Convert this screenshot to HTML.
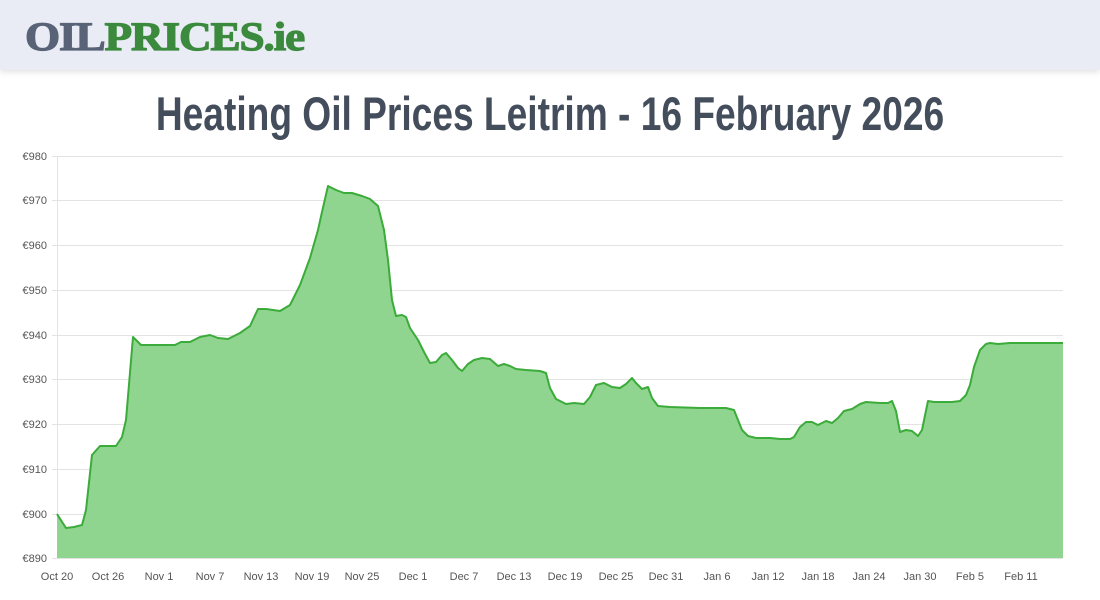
<!DOCTYPE html>
<html><head><meta charset="utf-8"><style>
body{margin:0;width:1100px;height:600px;background:#fff;overflow:hidden;font-family:"Liberation Sans",sans-serif;position:relative}
.hdr{position:absolute;left:0;top:0;width:1100px;height:70px;background:#e9ecf4;box-shadow:0 2px 6px rgba(0,0,0,0.12)}
.logo{position:absolute;left:25px;top:14px;font-family:"Liberation Serif",serif;font-weight:900;font-size:40px;letter-spacing:-1px;transform:scaleX(1.13);transform-origin:left;line-height:46px;-webkit-text-stroke:1.2px currentColor}
.title{position:absolute;left:0;width:1100px;top:84px;text-align:center;font-family:"Liberation Sans",sans-serif;font-weight:bold;font-size:47px;color:#444d5b;line-height:60px;transform:scaleX(0.79);transform-origin:550px 0}
</style></head><body>
<div class="hdr"><div class="logo"><span style="color:#596377">OIL</span><span style="color:#3b8a3e">PRICES.ie</span></div></div>
<div class="title">Heating Oil Prices Leitrim - 16 February 2026</div>
<svg width="1100" height="600" style="position:absolute;left:0;top:0">
<g stroke="#e3e3e3" stroke-width="1">
<line x1="52" x2="1063" y1="156.5" y2="156.5"/><line x1="52" x2="1063" y1="200.5" y2="200.5"/><line x1="52" x2="1063" y1="245.5" y2="245.5"/><line x1="52" x2="1063" y1="290.5" y2="290.5"/><line x1="52" x2="1063" y1="335.5" y2="335.5"/><line x1="52" x2="1063" y1="379.5" y2="379.5"/><line x1="52" x2="1063" y1="424.5" y2="424.5"/><line x1="52" x2="1063" y1="469.5" y2="469.5"/><line x1="52" x2="1063" y1="514.5" y2="514.5"/><line x1="52" x2="1063" y1="558.5" y2="558.5"/>
<line x1="57.5" x2="57.5" y1="156" y2="558"/>
</g>
<g font-size="11" fill="#555" text-anchor="end" font-family="Liberation Sans,sans-serif">
<text x="47" y="160">€980</text><text x="47" y="204">€970</text><text x="47" y="249">€960</text><text x="47" y="294">€950</text><text x="47" y="339">€940</text><text x="47" y="383">€930</text><text x="47" y="428">€920</text><text x="47" y="473">€910</text><text x="47" y="518">€900</text><text x="47" y="562">€890</text>
</g>
<g font-size="11" fill="#555" text-anchor="middle" font-family="Liberation Sans,sans-serif">
<text x="57" y="580">Oct 20</text><text x="108" y="580">Oct 26</text><text x="159" y="580">Nov 1</text><text x="210" y="580">Nov 7</text><text x="261" y="580">Nov 13</text><text x="312" y="580">Nov 19</text><text x="362" y="580">Nov 25</text><text x="413" y="580">Dec 1</text><text x="464" y="580">Dec 7</text><text x="514" y="580">Dec 13</text><text x="565" y="580">Dec 19</text><text x="616" y="580">Dec 25</text><text x="666" y="580">Dec 31</text><text x="717" y="580">Jan 6</text><text x="768" y="580">Jan 12</text><text x="818" y="580">Jan 18</text><text x="869" y="580">Jan 24</text><text x="920" y="580">Jan 30</text><text x="970" y="580">Feb 5</text><text x="1021" y="580">Feb 11</text>
</g>
<polygon fill="#90d58f" points="57,558 57,514 66,528 74,527 82,525 86,510 92,455 100,446 108,446 116,446 122,437 126,420 133,337 141,345 150,345 175,345 181,342 190,342 200,337 210,335 218,338 228,339 240,333 250,326 258,309 266,309 280,311 290,305 300,285 310,258 318,230 322,212 328,186 336,190 344,193 352,193 362,196 370,199 378,206 384,230 388,260 392,300 396,316 402,315 406,317 410,328 418,340 424,352 430,363 436,362 442,355 446,353 452,360 458,368 462,371 468,364 474,360 482,358 490,359 498,366 504,364 510,366 516,369 526,370 540,371 546,373 550,388 556,399 566,404 574,403 584,404 590,397 596,385 604,383 612,387 620,388 626,384 632,378 636,383 642,389 648,387 652,398 658,406 670,407 700,408 726,408 734,410 738,420 742,430 748,436 756,438 770,438 780,439 790,439 794,437 800,427 806,422 812,422 818,425 826,421 832,423 838,418 844,411 852,409 860,404 866,402 880,403 888,403 892,401 896,411 900,432 906,430 912,431 918,436 922,430 928,401 934,402 952,402 960,401 966,395 970,385 974,367 980,350 986,344 990,343 998,344 1010,343 1063,343 1063,558"/>
<polyline fill="none" stroke="#3bab3a" stroke-width="2" stroke-linejoin="round" points="57,514 66,528 74,527 82,525 86,510 92,455 100,446 108,446 116,446 122,437 126,420 133,337 141,345 150,345 175,345 181,342 190,342 200,337 210,335 218,338 228,339 240,333 250,326 258,309 266,309 280,311 290,305 300,285 310,258 318,230 322,212 328,186 336,190 344,193 352,193 362,196 370,199 378,206 384,230 388,260 392,300 396,316 402,315 406,317 410,328 418,340 424,352 430,363 436,362 442,355 446,353 452,360 458,368 462,371 468,364 474,360 482,358 490,359 498,366 504,364 510,366 516,369 526,370 540,371 546,373 550,388 556,399 566,404 574,403 584,404 590,397 596,385 604,383 612,387 620,388 626,384 632,378 636,383 642,389 648,387 652,398 658,406 670,407 700,408 726,408 734,410 738,420 742,430 748,436 756,438 770,438 780,439 790,439 794,437 800,427 806,422 812,422 818,425 826,421 832,423 838,418 844,411 852,409 860,404 866,402 880,403 888,403 892,401 896,411 900,432 906,430 912,431 918,436 922,430 928,401 934,402 952,402 960,401 966,395 970,385 974,367 980,350 986,344 990,343 998,344 1010,343 1063,343"/>
</svg>
</body></html>
